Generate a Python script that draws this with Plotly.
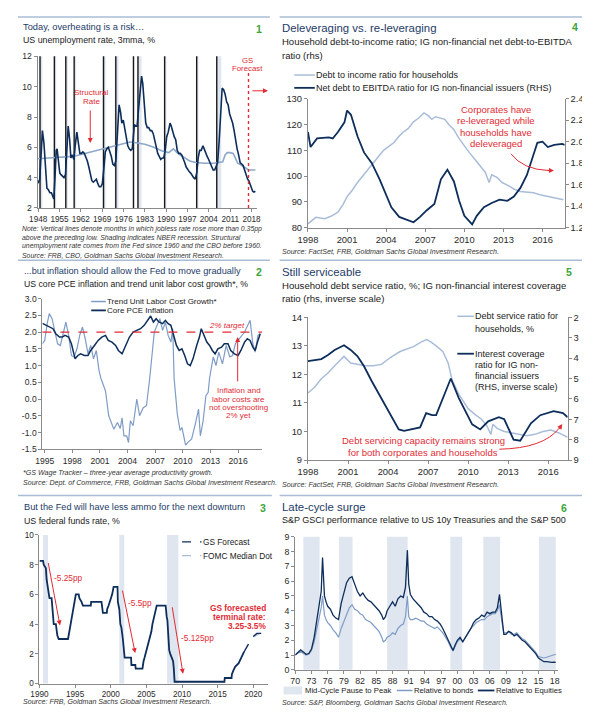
import plotly.graph_objects as go

W, H = 590, 718
FONT = "Liberation Sans, Arial, sans-serif"
NAVY = "#0d2d5a"
LIGHT = "#8ea8c9"
LIGHT2 = "#a9bdd9"
LIGHT3 = "#7f9cc6"
SHADE = "#dfe6f0"
RED = "#e12b35"
GREEN = "#3aa63a"
TITLE = "#1d3b66"
SUB = "#1a1a1a"
AX = "#8a8a8a"
TICK = "#2a2a2a"
RULE = "#a9bdd6"
NOTE = "#333333"

# ---------------- Panel 1: unemployment ----------------
ur_years = [1948.0, 1948.5, 1948.9, 1949.3, 1949.8, 1950.3, 1950.8, 1951.3, 1951.8, 1952.3,
            1952.8, 1953.3, 1953.6, 1954.0, 1954.4, 1954.7, 1955.1, 1955.6, 1956.0, 1956.5,
            1957.0, 1957.5, 1958.0, 1958.4, 1958.9, 1959.3, 1959.8, 1960.3, 1960.8, 1961.3,
            1961.8, 1962.3, 1962.8, 1963.3, 1963.8, 1964.3, 1964.8, 1965.3, 1965.8, 1966.3,
            1966.8, 1967.3, 1967.8, 1968.3, 1968.8, 1969.3, 1969.8, 1970.3, 1970.8, 1971.3,
            1971.8, 1972.3, 1972.8, 1973.3, 1973.8, 1974.3, 1974.8, 1975.4, 1975.9, 1976.3,
            1976.8, 1977.3, 1977.8, 1978.3, 1978.8, 1979.3, 1979.8, 1980.5, 1980.9, 1981.4,
            1981.8, 1982.3, 1982.9, 1983.3, 1983.8, 1984.3, 1984.8, 1985.3, 1985.8, 1986.3,
            1986.8, 1987.3, 1987.8, 1988.3, 1988.8, 1989.3, 1989.8, 1990.3, 1990.8, 1991.3,
            1991.8, 1992.4, 1992.8, 1993.3, 1993.8, 1994.3, 1994.8, 1995.3, 1995.8, 1996.3,
            1996.8, 1997.3, 1997.8, 1998.3, 1998.8, 1999.3, 1999.8, 2000.3, 2000.8, 2001.3,
            2001.8, 2002.3, 2002.8, 2003.4, 2003.8, 2004.3, 2004.8, 2005.3, 2005.8, 2006.3,
            2006.8, 2007.3, 2007.8, 2008.3, 2008.8, 2009.3, 2009.8, 2010.3, 2010.8, 2011.3,
            2011.8, 2012.3, 2012.8, 2013.3, 2013.8, 2014.3, 2014.8, 2015.3, 2015.8, 2016.3,
            2016.8, 2017.3, 2017.8, 2018.3, 2018.7, 2019.2, 2019.6, 2020.0, 2020.4, 2020.9]
ur_vals = [3.8, 3.7, 3.9, 5.2, 7.1, 6.3, 4.6, 3.3, 3.2, 3.0,
           3.0, 2.7, 2.6, 4.0, 5.8, 5.9, 5.0, 4.3, 4.2, 4.1,
           4.0, 4.2, 6.0, 7.4, 6.5, 5.3, 5.5, 5.2, 6.2, 7.0,
           6.3, 5.6, 5.6, 5.7, 5.6, 5.4, 5.1, 4.7, 4.2, 3.8,
           3.7, 3.8, 3.9, 3.6, 3.4, 3.4, 3.6, 4.6, 5.7, 5.9,
           6.0, 5.7, 5.4, 4.9, 4.8, 5.1, 6.6, 8.8, 8.3, 7.6,
           7.8, 7.3, 6.8, 6.1, 5.9, 5.8, 5.9, 7.5, 7.4, 7.4,
           8.3, 9.4, 10.7, 10.2, 8.6, 7.6, 7.3, 7.3, 7.1, 7.1,
           6.9, 6.4, 6.0, 5.6, 5.4, 5.2, 5.3, 5.3, 5.8, 6.7,
           7.0, 7.6, 7.4, 7.0, 6.7, 6.5, 5.8, 5.6, 5.6, 5.5,
           5.3, 5.0, 4.7, 4.5, 4.4, 4.3, 4.1, 4.0, 3.9, 4.3,
           5.3, 5.8, 5.8, 6.1, 5.9, 5.6, 5.4, 5.2, 5.0, 4.7,
           4.5, 4.5, 4.7, 5.0, 6.4, 8.5, 9.9, 9.8, 9.5, 9.0,
           8.8, 8.2, 7.9, 7.6, 7.1, 6.4, 5.9, 5.5, 5.0, 4.9,
           4.8, 4.5, 4.1, 3.9, 3.8, 3.5, 3.3, 3.1, 3.05, 3.1]
struct_years = [1948.0, 1952.0, 1956.0, 1960.0, 1962.0, 1965.0, 1968.0, 1971.0, 1974.0, 1977.0,
                1979.0, 1981.0, 1984.0, 1987.0, 1990.0, 1992.0, 1993.5, 1995.0, 1997.0, 1999.0,
                2001.0, 2004.0, 2007.0, 2009.0, 2010.0, 2010.8, 2011.5, 2012.5, 2013.5, 2014.3,
                2015.0, 2016.0, 2017.0, 2018.0, 2018.6, 2020.9]
struct_vals = [5.25, 5.3, 5.35, 5.4, 5.5, 5.65, 5.8, 5.95, 6.1, 6.25,
               6.35, 6.3, 6.2, 6.0, 5.75, 5.65, 5.9, 5.6, 5.35, 5.1,
               5.0, 4.95, 4.95, 5.0, 5.05, 5.5, 5.65, 5.65, 5.6, 5.25,
               4.95, 4.85, 4.75, 4.6, 4.5, 4.5]
jobless_lines = [1949.0, 1953.8, 1957.6, 1960.4, 1970.2, 1974.3, 1980.2, 1981.7, 1990.6, 2001.3, 2008.0]
nber_p1 = [(1948.9, 1949.8), (1953.5, 1954.4), (1957.6, 1958.3), (1960.3, 1961.1), (1969.9, 1970.9),
           (1973.9, 1975.2), (1980.0, 1980.5), (1981.5, 1982.9), (1990.5, 1991.2), (2001.2, 2001.9),
           (2007.9, 2009.5)]
gs_forecast_start = 2018.6
p1_tick_labels = ["1948", "1955", "1962", "1969", "1976", "1983", "1990", "1997", "2004", "2011", "2018"]
p1_tick_vals = [1948.4, 1955.5, 1962.6, 1969.75, 1976.9, 1984.0, 1991.1, 1998.2, 2005.35, 2012.5, 2019.6]

# ---------------- Panel 2: inflation ----------------
ulc_years = [1994.75, 1995.0, 1995.3, 1995.5, 1995.8, 1996.1, 1996.4, 1996.7, 1997.0, 1997.3,
             1997.6, 1997.9, 1998.2, 1998.5, 1998.8, 1999.1, 1999.4, 1999.7, 2000.0, 2000.3,
             2000.6, 2000.9, 2001.1, 2001.6, 2001.95, 2002.5, 2002.9, 2003.2, 2003.4, 2003.6,
             2003.9, 2004.1, 2004.3, 2004.6, 2005.0, 2005.3, 2005.7, 2006.05, 2006.4, 2006.7,
             2006.9, 2007.2, 2007.5, 2007.8, 2008.1, 2008.4, 2008.7, 2008.9, 2009.05, 2009.4,
             2009.7, 2009.9, 2010.3, 2010.6, 2010.95, 2011.35, 2011.7, 2011.9, 2012.2, 2012.5,
             2012.75, 2012.9, 2013.3, 2013.6, 2013.9, 2014.3, 2014.7, 2015.1, 2015.4, 2015.7,
             2016.25, 2016.7, 2017.3, 2017.6, 2017.85, 2018.15, 2018.4]
ulc_vals = [1.65, 1.75, 2.3, 2.55, 2.4, 2.0, 1.65, 1.6, 2.0, 2.3,
            1.9, 1.3, 1.25, 1.5, 1.9, 2.15, 1.8, 1.35, 1.6, 1.2,
            1.45, 0.85, 0.62, 0.24, -0.5, -0.9, -0.7, -0.88, -0.56, -1.1,
            -1.1, -1.3, -0.65, -0.8, 0.0, -0.5, -0.26, -0.2, 0.62, 1.5,
            2.0, 2.2, 2.4, 2.05, 2.3, 1.9, 1.7, 2.1, 0.62, -0.46,
            -0.94, -0.85, -1.38, -1.28, -1.2, -0.75, -0.3, -1.1, -0.65, 0.1,
            0.2, 0.62, 1.26, 1.0, 1.4, 1.05, 1.6, 1.26, 1.3, 1.65,
            1.85, 2.0, 2.35, 1.65, 1.4, 1.9, 1.95]
pce_years = [1994.75, 1995.2, 1995.5, 1995.9, 1996.2, 1996.6, 1996.9, 1997.2, 1997.6, 1997.9,
             1998.3, 1998.6, 1998.9, 1999.3, 1999.7, 2000.0, 2000.4, 2000.8, 2001.2, 2001.6,
             2001.9, 2002.3, 2002.7, 2003.0, 2003.4, 2003.8, 2004.2, 2004.6, 2005.0, 2005.4,
             2005.8, 2006.2, 2006.5, 2006.8, 2007.1, 2007.4, 2007.8, 2008.1, 2008.4, 2008.7,
             2009.0, 2009.3, 2009.6, 2009.9, 2010.2, 2010.5, 2010.8, 2011.1, 2011.5, 2011.8,
             2012.0, 2012.3, 2012.6, 2012.9, 2013.2, 2013.5, 2013.8, 2014.2, 2014.5, 2014.9,
             2015.2, 2015.6, 2016.0, 2016.3, 2016.7, 2017.0, 2017.3, 2017.6, 2017.85, 2018.1,
             2018.4]
pce_vals = [2.26, 2.2, 2.15, 2.1, 1.95, 1.85, 1.85, 1.9, 1.85, 1.65,
            1.2, 1.3, 1.35, 1.3, 1.3, 1.45, 1.6, 1.75, 1.85, 1.9,
            1.75, 1.7, 1.6, 1.45, 1.35, 1.6, 1.85, 2.0, 2.05, 2.1,
            2.2, 2.35, 2.48, 2.3, 2.4, 2.3, 2.25, 2.35, 2.25, 2.2,
            1.9, 1.6, 1.45, 1.5, 1.3, 1.05, 1.0, 1.2, 1.6, 1.85,
            2.1, 1.9, 1.7, 1.6, 1.45, 1.35, 1.5, 1.55, 1.65, 1.65,
            1.45, 1.35, 1.3, 1.45, 1.7, 1.8, 1.75, 1.55, 1.45, 1.7,
            1.95]
inflation_target = 2.0
p2_yticks = [-1.5, -1.0, -0.5, 0.0, 0.5, 1.0, 1.5, 2.0, 2.5, 3.0]
p2_yticktext = ["-1.5", "-1.0", "-0.5", "0.0", "0.5", "1.0", "1.5", "2.0", "2.5", "3.0"]

# ---------------- Panel 3: fed funds ----------------
fed_years = [1990.0, 1990.5, 1990.6, 1990.9, 1991.0, 1991.1, 1991.3, 1991.4, 1991.7, 1991.8,
             1991.9, 1992.0, 1992.3, 1992.5, 1992.7, 1994.0, 1994.1, 1994.3, 1994.4, 1994.6,
             1994.9, 1995.1, 1995.5, 1995.6, 1995.9, 1996.1, 1997.2, 1997.25, 1998.7, 1998.8,
             1998.9, 1999.45, 1999.5, 1999.7, 1999.9, 2000.1, 2000.2, 2000.4, 2000.95, 2001.0,
             2001.2, 2001.35, 2001.5, 2001.7, 2001.8, 2001.9, 2001.95, 2002.85, 2002.9, 2003.45,
             2003.5, 2004.45, 2004.5, 2004.6, 2004.75, 2004.9, 2004.95, 2005.1, 2005.25, 2005.4,
             2005.55, 2005.7, 2005.85, 2006.1, 2006.3, 2006.45, 2007.7, 2007.75, 2007.85, 2007.95,
             2008.05, 2008.2, 2008.35, 2008.75, 2008.85, 2008.96, 2015.95, 2016.0, 2016.95, 2017.0,
             2017.2, 2017.45, 2017.95, 2018.2, 2018.45, 2018.7]
fed_rate = [8.25, 8.25, 8.0, 7.75, 7.0, 6.75, 6.0, 5.75, 5.75, 5.25,
            4.5, 4.0, 4.0, 3.25, 3.0, 3.0, 3.25, 3.75, 4.25, 4.75,
            5.5, 6.0, 6.0, 5.75, 5.5, 5.25, 5.25, 5.5, 5.5, 5.0,
            4.75, 4.75, 5.0, 5.25, 5.5, 5.75, 6.0, 6.5, 6.5, 5.5,
            5.0, 4.0, 3.75, 3.0, 2.5, 2.0, 1.75, 1.75, 1.25, 1.25,
            1.0, 1.0, 1.25, 1.5, 1.75, 2.0, 2.25, 2.5, 2.75, 3.0,
            3.25, 3.5, 4.0, 4.5, 4.75, 5.25, 5.25, 4.75, 4.5, 4.25,
            3.0, 2.25, 2.0, 1.5, 1.0, 0.125, 0.125, 0.375, 0.375, 0.625,
            0.875, 1.125, 1.375, 1.625, 1.875, 2.125]
gs_years = [2018.7, 2019.0, 2019.25, 2019.5, 2019.9, 2020.5, 2021.9]
gs_rate = [2.125, 2.375, 2.625, 2.875, 3.125, 3.375, 3.375]
fomc_years = [2018.7, 2018.95, 2019.95, 2020.95, 2021.9]
fomc_rate = [2.125, 2.375, 3.125, 3.375, 3.375]
nber_p3 = [(1990.5, 1991.2), (2001.2, 2001.9), (2007.9, 2009.5)]

# ---------------- Panel 4: leverage ----------------
hh_years = [1998.0, 1998.6, 1999.3, 1999.8, 2000.3, 2000.7, 2001.0, 2001.4, 2001.8, 2002.3,
            2002.9, 2003.4, 2003.8, 2004.2, 2004.6, 2005.0, 2005.3, 2005.7, 2006.1, 2006.5,
            2006.9, 2007.2, 2007.5, 2007.8, 2008.1, 2008.5, 2008.8, 2009.2, 2009.6, 2010.0,
            2010.4, 2010.8, 2011.2, 2011.6, 2011.9, 2012.1, 2012.5, 2012.9, 2013.3, 2013.8,
            2014.3, 2014.8, 2015.3, 2015.8, 2016.3, 2016.8, 2017.2, 2017.6]
hh_ratio = [81.5, 84.0, 83.5, 84.5, 86.0, 89.0, 92.0, 94.5, 97.5, 100.5,
            104.5, 107.5, 110.0, 111.5, 113.0, 115.5, 117.0, 118.5, 121.0, 122.5,
            124.5, 123.5, 122.0, 123.0, 122.5, 122.0, 120.0, 118.0, 114.5, 111.5,
            109.0, 106.5, 104.0, 101.5, 97.5, 100.5, 99.5, 97.5, 96.5, 95.0,
            94.0, 93.8, 93.5, 92.8, 92.2, 91.8, 91.3, 90.8]
ebitda_years = [1998.0, 1998.2, 1998.7, 1999.6, 1999.9, 2000.3, 2000.8, 2001.0, 2001.3, 2001.8,
                2002.3, 2002.9, 2003.5, 2004.0, 2004.4, 2005.0, 2005.6, 2006.1, 2006.6, 2007.1,
                2007.7, 2008.2, 2008.7, 2009.2, 2009.6, 2010.0, 2010.6, 2010.95, 2011.5, 2012.1,
                2012.7, 2013.3, 2013.8, 2014.3, 2014.8, 2015.2, 2015.6, 2016.0, 2016.4, 2016.9,
                2017.5, 2017.7]
ebitda_ratio = [2.09, 1.95, 2.03, 2.04, 2.03, 2.09, 2.18, 2.29, 2.25, 2.05,
                1.9, 1.8, 1.65, 1.51, 1.39, 1.3, 1.27, 1.25, 1.3, 1.36,
                1.42, 1.65, 1.74, 1.63, 1.45, 1.31, 1.23, 1.31, 1.39, 1.43,
                1.46, 1.45, 1.49, 1.57, 1.69, 1.84, 1.99, 2.0, 1.95, 1.97,
                1.98, 1.97]

# ---------------- Panel 5: debt service ----------------
dsr_years = [1998.0, 1998.5, 1999.0, 1999.5, 2000.0, 2000.7, 2001.2, 2001.7, 2002.3, 2002.9,
             2003.5, 2004.2, 2004.9, 2005.9, 2006.5, 2006.9, 2007.2, 2007.6, 2008.1, 2008.5,
             2008.8, 2009.3, 2010.0, 2010.5, 2011.0, 2011.4, 2011.7, 2011.85, 2012.2, 2012.7,
             2013.2, 2013.8, 2014.4, 2015.0, 2015.6, 2016.2, 2016.8, 2017.45]
dsr_vals = [11.35, 11.55, 11.85, 12.05, 12.3, 12.63, 12.4, 12.35, 12.3, 12.3,
            12.35, 12.6, 12.8, 12.97, 13.14, 13.22, 13.14, 13.0, 12.8, 12.4,
            11.8, 11.3, 10.8, 10.6, 10.43, 10.2, 9.9, 10.25, 10.1, 10.0,
            9.95, 9.9, 9.85, 9.9, 10.0, 10.05, 9.95, 9.8]
icr_years = [1998.0, 1998.5, 1999.0, 1999.5, 2000.0, 2000.7, 2001.2, 2001.7, 2002.2, 2002.75,
             2003.5, 2004.2, 2004.8, 2005.2, 2005.8, 2006.4, 2006.85, 2007.3, 2007.6, 2008.1,
             2008.7, 2009.3, 2009.8, 2010.3, 2010.9, 2011.5, 2012.3, 2012.7, 2013.4, 2013.9,
             2014.7, 2015.4, 2016.4, 2017.1, 2017.45]
icr_vals = [4.15, 4.1, 4.05, 3.85, 3.6, 3.37, 3.6, 3.9, 4.4, 5.1,
            5.96, 6.8, 7.5, 7.57, 7.5, 7.4, 6.7, 6.8, 6.8, 5.96,
            5.0, 5.96, 6.6, 7.25, 7.5, 7.1, 6.9, 7.0, 8.0, 8.05,
            7.2, 6.8, 6.6, 6.7, 6.9]

# ---------------- Panel 6: GSCI relative ----------------
p6_years = [1970.0, 1970.5, 1971.0, 1971.5, 1972.0, 1972.5, 1973.0, 1973.5, 1974.0, 1974.4,
            1974.8, 1975.05, 1975.2, 1975.4, 1975.7, 1976.0, 1976.5, 1977.0, 1977.5, 1978.0,
            1978.5, 1979.0, 1979.5, 1980.0, 1980.5, 1981.0, 1981.5, 1982.0, 1982.5, 1983.0,
            1983.5, 1984.0, 1984.5, 1985.0, 1985.5, 1986.0, 1986.3, 1986.7, 1987.0, 1987.5,
            1988.0, 1988.5, 1989.0, 1989.5, 1990.0, 1990.4, 1990.75, 1991.0, 1991.3, 1991.8,
            1992.3, 1992.8, 1993.3, 1993.8, 1994.3, 1994.8, 1995.3, 1995.8, 1996.3, 1996.8,
            1997.3, 1997.8, 1998.3, 1998.8, 1999.2, 1999.6, 2000.0, 2000.5, 2001.0, 2001.5,
            2002.0, 2002.5, 2003.0, 2003.5, 2004.0, 2004.5, 2005.0, 2005.5, 2006.0, 2006.5,
            2007.0, 2007.4, 2007.8, 2008.0, 2008.3, 2008.6, 2009.0, 2009.5, 2010.0, 2010.5,
            2011.0, 2011.5, 2012.0, 2012.5, 2013.0, 2013.5, 2014.0, 2014.5, 2015.0, 2015.5,
            2016.0, 2016.5, 2017.0, 2017.5, 2017.9, 2018.2]
rel_equities = [1.0, 1.15, 1.35, 1.2, 1.05, 1.1, 1.4, 2.2, 3.4, 4.4,
                5.3, 7.6, 5.8, 5.0, 4.6, 4.3, 4.1, 3.7, 3.5, 3.4,
                4.5, 5.3, 5.9, 6.2, 6.3, 5.8, 5.3, 5.0, 5.2, 4.9,
                4.7, 4.6, 4.4, 4.2, 4.0, 3.7, 3.4, 3.6, 4.0, 4.3,
                4.6, 4.3, 4.8, 5.0, 4.9, 5.6, 8.1, 5.8, 5.1, 4.8,
                4.6, 4.4, 4.2, 3.9, 3.8, 3.6, 3.6, 3.4, 3.3, 3.1,
                2.8, 2.4, 2.0, 1.5, 1.3, 1.7, 2.0, 2.2, 1.9, 2.2,
                2.5, 2.8, 3.2, 3.4, 3.5, 3.7, 3.6, 3.9, 3.8, 3.9,
                3.9, 4.2, 5.1, 4.3, 3.3, 2.4, 2.4, 2.6, 2.5, 2.3,
                2.4, 2.2, 2.0, 1.9, 1.7, 1.5, 1.25, 1.1, 0.8, 0.7,
                0.55, 0.55, 0.5, 0.5, 0.52, 0.5]
rel_bonds = [1.0, 1.1, 1.25, 1.1, 1.0, 1.05, 1.3, 1.9, 2.8, 3.5,
             4.2, 5.0, 4.2, 3.7, 3.4, 3.2, 3.0, 2.7, 2.5, 2.2,
             2.8, 3.3, 3.8, 4.2, 4.4, 4.1, 4.0, 3.8, 3.7, 3.4,
             3.3, 3.2, 3.0, 2.8, 2.6, 2.2, 1.9, 2.0, 2.2, 2.3,
             2.5, 2.4, 2.8, 3.0, 3.1, 3.6, 5.0, 3.6, 3.4, 3.4,
             3.5, 3.4, 3.3, 3.3, 3.1, 3.0, 2.9, 2.8, 2.9, 2.7,
             2.5, 2.2, 1.9, 1.5, 1.3, 1.6, 1.9, 2.1, 1.9, 2.2,
             2.5, 2.8, 3.0, 3.2, 3.3, 3.4, 3.4, 3.6, 3.7, 3.8,
             3.8, 4.0, 4.4, 3.8, 3.1, 2.5, 2.5, 2.6, 2.4, 2.4,
             2.5, 2.3, 2.1, 2.0, 1.8, 1.6, 1.4, 1.2, 0.9, 0.85,
             0.8, 0.85, 0.9, 0.95, 1.0, 1.05]
pause_periods = [(1971.5, 1974.5), (1978.1, 1980.6), (1987.0, 1990.8), (1998.7, 2000.9),
                 (2004.8, 2007.9), (2015.1, 2018.2)]
p6_ticks = list(range(1970, 2019, 3))
p6_ticktext = ["%02d" % (v % 100) for v in p6_ticks]

for a, b in [(ur_years, ur_vals), (struct_years, struct_vals), (ulc_years, ulc_vals),
             (pce_years, pce_vals), (fed_years, fed_rate), (hh_years, hh_ratio),
             (ebitda_years, ebitda_ratio), (dsr_years, dsr_vals), (icr_years, icr_vals),
             (p6_years, rel_equities), (p6_years, rel_bonds)]:
    assert len(a) == len(b), (len(a), len(b))

# ---------------- helpers ----------------
annotations = []
shapes = []


def T(x, y, s, size, color, anchor="left", bold=False, italic=False):
    if bold:
        s = "<b>" + s + "</b>"
    if italic:
        s = "<i>" + s + "</i>"
    annotations.append(dict(x=x / W, y=1 - y / H, xref="paper", yref="paper", text=s,
                            showarrow=False, xanchor=anchor, yanchor="middle", borderpad=0,
                            font=dict(size=size, color=color, family=FONT)))


def L(x0, y0, x1, y1, color, width=1.5, dash="solid"):
    shapes.append(dict(type="line", xref="paper", yref="paper", x0=x0 / W, y0=1 - y0 / H,
                       x1=x1 / W, y1=1 - y1 / H, line=dict(color=color, width=width, dash=dash)))


def ARROW(hx, hy, tx, ty, color=RED, width=1, size=1):
    annotations.append(dict(x=hx / W, y=1 - hy / H, xref="paper", yref="paper", ax=tx - hx,
                            ay=ty - hy, axref="pixel", ayref="pixel", text="", showarrow=True,
                            arrowhead=2, arrowsize=size, arrowwidth=width, arrowcolor=color))


def CURVE(x0, y0, cx, cy, x1, y1, color=RED):
    shapes.append(dict(type="path", xref="paper", yref="paper",
                       path="M %f,%f Q %f,%f %f,%f" % (x0 / W, 1 - y0 / H, cx / W, 1 - cy / H,
                                                      x1 / W, 1 - y1 / H),
                       line=dict(color=color, width=1)))


def band(xref, yref, a, b, color=SHADE):
    shapes.append(dict(type="rect", xref=xref, yref=yref + " domain", x0=a, x1=b, y0=0, y1=1,
                       fillcolor=color, line=dict(width=0), layer="below"))


def XA(x0, x1, rng, anchor, size, **kw):
    d = dict(domain=[x0 / W, x1 / W], range=rng, anchor=anchor, showgrid=False, zeroline=False,
             showline=True, linecolor=AX, linewidth=1, ticks="outside", ticklen=3, tickcolor=AX,
             tickangle=0, tickfont=dict(size=size, color=TICK, family=FONT))
    d.update(kw)
    return d


def YA(ybot, ytop, rng, anchor, size, **kw):
    d = dict(domain=[1 - ybot / H, 1 - ytop / H], range=rng, anchor=anchor, showgrid=False,
             zeroline=False, showline=True, linecolor=AX, linewidth=1, ticks="outside",
             ticklen=3, tickcolor=AX, tickfont=dict(size=size, color=TICK, family=FONT))
    d.update(kw)
    return d


def YR(rng, overlay, anchor, size, **kw):
    d = dict(overlaying=overlay, side="right", range=rng, anchor=anchor, showgrid=False,
             zeroline=False, showline=True, linecolor=AX, linewidth=1, ticks="outside",
             ticklen=3, tickcolor=AX, tickfont=dict(size=size, color=TICK, family=FONT))
    d.update(kw)
    return d


fig = go.Figure()


def line(x, y, xa, ya, color, width, dash="solid"):
    fig.add_trace(go.Scatter(x=x, y=y, xaxis=xa, yaxis=ya, mode="lines", showlegend=False,
                             hoverinfo="skip", line=dict(color=color, width=width, dash=dash)))


# Panel 1 traces
line(struct_years, struct_vals, "x", "y", LIGHT, 1.6)
line(ur_years, ur_vals, "x", "y", NAVY, 1.6)
# Panel 2
line(ulc_years, ulc_vals, "x2", "y2", LIGHT3, 1.2)
line(pce_years, pce_vals, "x2", "y2", NAVY, 1.5)
# Panel 3
line(fomc_years, fomc_rate, "x3", "y3", LIGHT2, 1.3, "dash")
line(gs_years, gs_rate, "x3", "y3", NAVY, 1.3, "dash")
line(fed_years, fed_rate, "x3", "y3", NAVY, 1.8)
# Panel 4
line(hh_years, hh_ratio, "x4", "y4", LIGHT2, 1.5)
line(ebitda_years, ebitda_ratio, "x4", "y5", NAVY, 1.8)
# Panel 5
line(dsr_years, dsr_vals, "x5", "y6", LIGHT2, 1.5)
line(icr_years, icr_vals, "x5", "y7", NAVY, 1.8)
# Panel 6
line(p6_years, rel_bonds, "x6", "y8", LIGHT3, 1.2)
line(p6_years, rel_equities, "x6", "y8", NAVY, 1.3)

# ---- shapes: shading, markers ----
for a, b in nber_p1:
    band("x", "y", a, b)
for v in jobless_lines:
    shapes.append(dict(type="line", xref="x", yref="y domain", x0=v, x1=v, y0=0, y1=1,
                       line=dict(color="#1a1a1a", width=1.4), layer="below"))
shapes.append(dict(type="line", xref="x", yref="y", x0=gs_forecast_start, x1=gs_forecast_start,
                   y0=2, y1=10.9, line=dict(color=RED, width=1.4, dash="dot")))
shapes.append(dict(type="line", xref="x2 domain", yref="y2", x0=0, x1=1, y0=inflation_target,
                   y1=inflation_target, line=dict(color=RED, width=1.3, dash="dash")))
for a, b in nber_p3:
    band("x3", "y3", a, b)
for a, b in pause_periods:
    band("x6", "y8", a, b)

# rules
L(0, 3, 258, 3, RULE)
L(268, 3, 584, 3, RULE)
L(0, 250, 258, 250, RULE)
L(268, 250, 580, 250, RULE)
L(0, 489, 260, 489, RULE)
L(268, 489, 584, 489, RULE)

# ---- Panel 1 text ----
T(4, 13, "Today, overheating is a risk…", 9.3, TITLE)
T(4, 26, "US unemployment rate, 3mma, %", 8.8, SUB)
T(247, 15, "1", 10.5, GREEN, "center", bold=True)
T(75, 80, "Structural", 8, RED, "center")
T(75, 89, "Rate", 8, RED, "center")
ARROW(74, 131, 74, 97)
T(235, 47, "GS", 7.8, RED, "center")
T(235, 55, "Forecast", 7.8, RED, "center")
ARROW(256, 78, 239, 78)
T(3, 218, "Note: Vertical lines denote months in which jobless rate rose more than 0.35pp", 6.9, NOTE, italic=True)
T(3, 227, "above the preceding low. Shading indicates NBER recession. Structural", 6.9, NOTE, italic=True)
T(3, 236, "unemployment rate comes from the Fed since 1960 and the CBO before 1960.", 6.9, NOTE, italic=True)
T(3, 245, "Source: FRB, CBO, Goldman Sachs Global Investment Research.", 6.9, NOTE, italic=True)

# ---- Panel 2 text ----
T(5, 261, "...but inflation should allow the Fed to move gradually", 9.2, TITLE)
T(5, 274, "US core PCE inflation and trend unit labor cost growth*, %", 8.7, SUB)
T(247, 262, "2", 10.5, GREEN, "center", bold=True)
L(75, 292, 90, 292, LIGHT3, 1.5)
T(90, 292, "Trend Unit Labor Cost Growth*", 8, SUB)
L(75, 301, 90, 301, NAVY, 1.8)
T(90, 301, "Core PCE Inflation", 8, SUB)
T(214, 316, "2% target", 8, RED, "center", italic=True)
ARROW(225, 328, 225, 374)
T(226, 382, "Inflation and", 8, RED, "center")
T(226, 391, "labor costs are", 8, RED, "center")
T(226, 399.5, "not overshooting", 8, RED, "center")
T(226, 408, "2% yet", 8, RED, "center")
T(4, 466, "*GS Wage Tracker – three-year average productivity growth.", 7.1, NOTE, italic=True)
T(4, 476, "Source: Dept. of Commerce, FRB, Goldman Sachs Global Investment Research.", 7.1, NOTE, italic=True)

# ---- Panel 3 text ----
T(5, 501, "But the Fed will have less ammo for the next downturn", 9.2, TITLE)
T(5, 515, "US federal funds rate, %", 8.8, SUB)
T(251, 502, "3", 10.5, GREEN, "center", bold=True)
L(168, 536, 188, 536, NAVY, 1.3, "dash")
T(188, 536, "GS Forecast", 8.3, SUB)
L(168, 550, 188, 550, LIGHT2, 1.3, "dash")
T(188, 550, "FOMC Median Dot", 8.3, SUB)
ARROW(43, 621, 31, 557)
T(36, 573, "-5.25pp", 8.3, RED)
ARROW(120, 649, 107, 585)
T(112, 598, "-5.5pp", 8.3, RED)
ARROW(169, 670, 158, 602)
T(166, 634, "-5.125pp", 8.3, RED)
T(255, 603, "GS forecasted", 8.3, RED, "right", bold=True)
T(255, 612.5, "terminal rate:", 8.3, RED, "right", bold=True)
T(255, 622, "3.25-3.5%", 8.3, RED, "right", bold=True)
T(4, 699, "Source: FRB, Goldman Sachs Global Investment Research.", 7.1, NOTE, italic=True)

# ---- Panel 4 text ----
T(269, 14, "Deleveraging vs. re-leveraging", 11.4, TITLE)
T(269, 28, "Household debt-to-income ratio; IG non-financial net debt-to-EBITDA", 9.5, SUB)
T(269, 42, "ratio (rhs)", 9.5, SUB)
T(571, 13, "4", 10.5, GREEN, "center", bold=True)
L(283, 62, 304, 62, LIGHT2, 1.5)
T(304, 62, "Debt to income ratio for households", 9, SUB)
L(283, 75, 304, 75, NAVY, 1.8)
T(304, 75, "Net debt to EBITDA ratio for IG non-financial issuers (RHS)", 9, SUB)
T(490, 97, "Corporates have", 9.5, RED, "center")
T(490, 108.5, "re-leveraged while", 9.5, RED, "center")
T(490, 120, "households have", 9.5, RED, "center")
T(490, 131.5, "deleveraged", 9.5, RED, "center")
CURVE(505, 142, 517, 158, 544, 159)
ARROW(549, 159, 541, 158.8)
T(269, 242, "Source: FactSet, FRB, Goldman Sachs Global Investment Research.", 7.1, NOTE, italic=True)

# ---- Panel 5 text ----
T(269, 262, "Still serviceable", 11.4, TITLE)
T(269, 276, "Household debt service ratio, %; IG non-financial interest coverage", 9.6, SUB)
T(269, 289, "ratio (rhs, inverse scale)", 9.6, SUB)
T(564, 262, "5", 10.5, GREEN, "center", bold=True)
L(450, 307, 467, 307, LIGHT2, 1.5)
T(467, 307, "Debt service ratio for", 9, SUB)
T(467, 319.5, "households, %", 9, SUB)
L(450, 345, 467, 345, NAVY, 1.8)
T(467, 345, "Interest coverage", 9, SUB)
T(467, 356.5, "ratio for IG non-", 9, SUB)
T(467, 367.5, "financial issuers", 9, SUB)
T(467, 378.5, "(RHS, inverse scale)", 9, SUB)
T(415, 433, "Debt servicing capacity remains strong", 9.5, RED, "center")
T(415, 445, "for both corporates and households", 9.5, RED, "center")
CURVE(493, 442, 538, 441, 554, 421)
ARROW(557.5, 416.5, 553, 423)
T(269, 478, "Source: FactSet, FRB, Goldman Sachs Global Investment Research.", 7.1, NOTE, italic=True)

# ---- Panel 6 text ----
T(269, 501, "Late-cycle surge", 11.4, TITLE)
T(269, 514, "S&amp;P GSCI performance relative to US 10y Treasuries and the S&amp;P 500", 9, SUB)
T(559, 502, "6", 10.5, GREEN, "center", bold=True)
shapes.append(dict(type="rect", xref="paper", yref="paper", x0=272 / W, x1=291 / W,
                   y0=1 - 691 / H, y1=1 - 683 / H, fillcolor=SHADE, line=dict(width=0)))
T(293, 687, "Mid-Cycle Pause to Peak", 7.7, SUB)
L(388, 687, 404, 687, LIGHT3, 1.5)
T(405, 687, "Relative to bonds", 7.7, SUB)
L(471, 687, 488, 687, NAVY, 1.8)
T(489, 687, "Relative to Equities", 7.7, SUB)
T(269, 700, "Source: S&amp;P, Bloomberg, Goldman Sachs Global Investment Research.", 7.1, NOTE, italic=True)

fig.update_layout(
    width=W, height=H, margin=dict(l=0, r=0, t=0, b=0),
    paper_bgcolor="white", plot_bgcolor="white", showlegend=False,
    font=dict(family=FONT, color=SUB),
    xaxis=XA(20.1, 245, [1948.2, 2021.5], "y", 8.2, tickvals=p1_tick_vals, ticktext=p1_tick_labels),
    yaxis=YA(197, 43, [2, 12], "x", 8.6, tickvals=[2, 4, 6, 8, 10, 12]),
    xaxis2=XA(25, 250, [1994.75, 2018.6], "y2", 8.6, tickvals=list(range(1995, 2017, 3))),
    yaxis2=YA(442, 289, [-1.5, 3.0], "x2", 8.6, tickvals=p2_yticks, ticktext=p2_yticktext),
    xaxis3=XA(22, 255.6, [1990, 2022], "y3", 8.2, tickvals=list(range(1990, 2021, 5))),
    yaxis3=YA(680, 529, [0, 10], "x3", 8.2, tickvals=[0, 2, 4, 6, 8, 10]),
    xaxis4=XA(297, 560, [1998, 2017.7], "y4", 9.4, tickvals=list(range(1998, 2017, 3))),
    yaxis4=YA(217, 86, [80, 130], "x4", 9.4, tickvals=[80, 90, 100, 110, 120, 130]),
    yaxis5=YR([1.2, 2.4], "y4", "x4", 9.4, tickvals=[1.2, 1.4, 1.6, 1.8, 2.0, 2.2, 2.4],
              ticktext=["1.2", "1.4", "1.6", "1.8", "2.0", "2.2", "2.4"]),
    xaxis5=XA(297, 563, [1998, 2017.45], "y6", 9.4, tickvals=list(range(1998, 2017, 3))),
    yaxis6=YA(453, 308, [9, 14], "x5", 9.4, tickvals=[9, 10, 11, 12, 13, 14]),
    yaxis7=YR([9, 2], "y6", "x5", 9.4, tickvals=[2, 3, 4, 5, 6, 7, 8, 9]),
    xaxis6=XA(284, 553, [1970, 2018.6], "y8", 8.8, tickvals=p6_ticks, ticktext=p6_ticktext),
    yaxis8=YA(666, 531, [0, 9], "x6", 8.8, tickvals=list(range(0, 10))),
    annotations=annotations, shapes=shapes,
)

fig.write_html("out.html")
